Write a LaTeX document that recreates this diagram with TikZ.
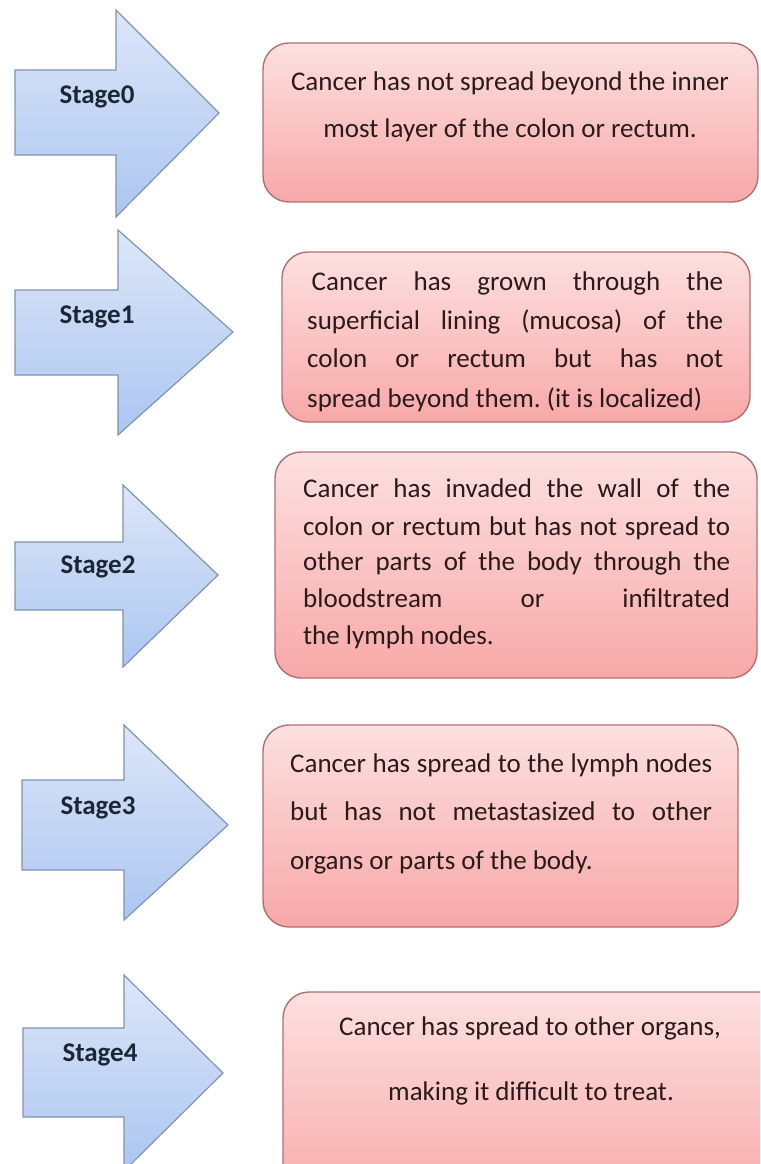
\documentclass[tikz,border=0pt]{standalone}
\usepackage{fontspec}
\setmainfont{Carlito}
\frenchspacing
\definecolor{arrtop}{HTML}{DCE6F8}
\definecolor{arrbot}{HTML}{ACC6F1}
\definecolor{arrline}{HTML}{8093B0}
\definecolor{boxtop}{HTML}{FDE0E0}
\definecolor{boxbot}{HTML}{F8A8A8}
\definecolor{boxline}{HTML}{B07070}
\definecolor{txtcol}{HTML}{2A1A1A}
\definecolor{lblcol}{HTML}{1C2636}
\tikzset{
  stagearrow/.style={draw=arrline, line width=1.2pt, top color=arrtop, bottom color=arrbot, line join=miter},
  stagebox/.style={draw=boxline, line width=1.4pt, rounded corners=26pt, top color=boxtop, bottom color=boxbot, inner sep=0pt},
  lbl/.style={font=\bfseries\fontsize{27}{30}\selectfont, text=lblcol},
  ln/.style={font=\fontsize{27}{30}\selectfont, text=txtcol, inner sep=0pt, text height=1.5ex, text depth=.25ex, yshift=-5pt}
}
\begin{document}
\begin{tikzpicture}[x=1pt,y=-1pt]
\useasboundingbox (0,0) rectangle (760,1164);
\clip (0,0) rectangle (760,1164);
% arrows
\path[stagearrow] (15,70) -- (116,70) -- (116,10) -- (219,113) -- (116,217) -- (116,155) -- (15,155) -- cycle;
\path[stagearrow] (15,290) -- (118,290) -- (118,230) -- (233,332) -- (118,435) -- (118,375) -- (15,375) -- cycle;
\path[stagearrow] (15,542) -- (123,542) -- (123,485) -- (218,575) -- (123,667) -- (123,610) -- (15,610) -- cycle;
\path[stagearrow] (22,780) -- (124,780) -- (124,725) -- (228,825) -- (124,920) -- (124,870) -- (22,870) -- cycle;
\path[stagearrow] (23,1028) -- (124,1028) -- (124,975) -- (223,1073) -- (124,1171) -- (124,1117) -- (23,1117) -- cycle;
\node[lbl] (s0) at (97,97) {Stage0};
\node[lbl] (s1) at (97,317) {Stage1};
\node[lbl] (s2) at (98,567) {Stage2};
\node[lbl] (s3) at (98,808) {Stage3};
\node[lbl] (s4) at (100,1055) {Stage4};
% boxes
\path[stagebox] (263,43) rectangle (758,202);
\path[stagebox] (282,252) rectangle (750,422);
\path[stagebox] (275,452) rectangle (757,678);
\path[stagebox] (263,725) rectangle (738,927);
\path[stagebox] (283,992) rectangle (800,1210);
% box 0
\node[ln] (b0a) at (510,83) {Cancer has not spread beyond the inner};
\node[ln] (b0b) at (510,130) {most layer of the colon or rectum.};
% box 1
\node[ln,anchor=west] (b1a) at (307,283) {\makebox[416pt][s]{\,Cancer has grown through the}};
\node[ln,anchor=west] (b1b) at (307,322) {\makebox[416pt][s]{superficial lining (mucosa) of the}};
\node[ln,anchor=west] (b1c) at (307,360) {\makebox[416pt][s]{colon or rectum but has not}};
\node[ln,anchor=west] (b1d) at (307,400) {spread beyond them. (it is localized)};
% box 2
\node[ln,anchor=west] (b2a) at (303,490) {\makebox[427pt][s]{Cancer has invaded the wall of the}};
\node[ln,anchor=west] (b2b) at (303,528) {\makebox[427pt][s]{colon or rectum but has not spread to}};
\node[ln,anchor=west] (b2c) at (303,563) {\makebox[427pt][s]{other parts of the body through the}};
\node[ln,anchor=west] (b2d) at (303,600) {\makebox[427pt][s]{bloodstream or infiltrated}};
\node[ln,anchor=west] (b2e) at (303,637) {the lymph nodes.};
% box 3
\node[ln,anchor=west] (b3a) at (290,765) {\makebox[422pt][s]{Cancer has spread to the lymph nodes}};
\node[ln,anchor=west] (b3b) at (290,813) {\makebox[422pt][s]{but has not metastasized to other}};
\node[ln,anchor=west] (b3c) at (290,862) {organs or parts of the body.};
% box 4
\node[ln] (b4a) at (530,1028) {Cancer has spread to other organs,};
\node[ln] (b4b) at (531,1093) {making it difficult to treat.};
\end{tikzpicture}
\end{document}
